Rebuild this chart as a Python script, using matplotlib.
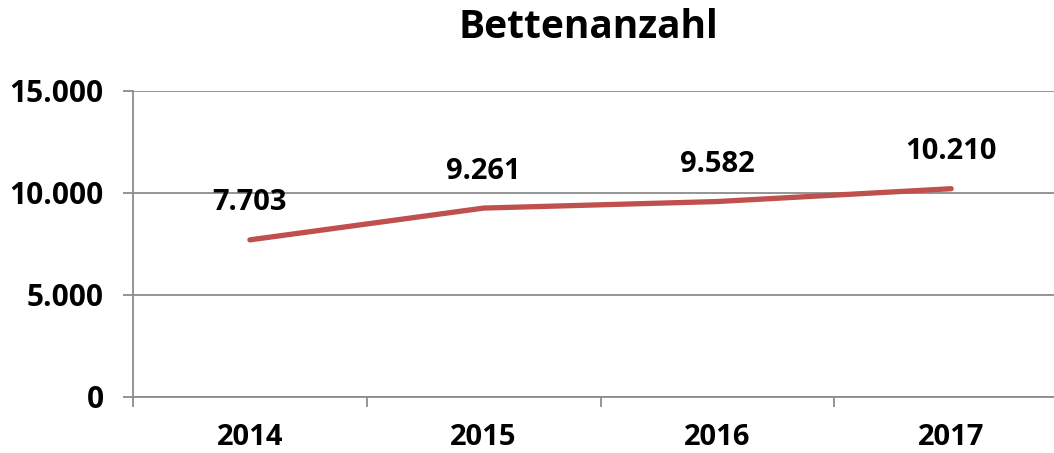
import matplotlib
matplotlib.use('Agg')
from matplotlib import pyplot as plt
from matplotlib.ticker import FixedLocator, FuncFormatter

years = ['2014', '2015', '2016', '2017']
betten = [7703, 9261, 9582, 10210]
yticks = [0, 5000, 10000, 15000]

plt.rcParams['font.family'] = ['Open Sans', 'DejaVu Sans']
plt.rcParams['font.weight'] = 'bold'

fig = plt.figure(figsize=(10.54, 4.53), dpi=100)
ax = fig.add_axes([133/1054, 1-397/453, 935/1054, 306/453])

x = list(range(len(years)))
ax.plot(x, betten, color='#C0504D', lw=3.8, solid_capstyle='round')

def de(v):
    return f'{v:,.0f}'.replace(',', '.')

for xi, v in zip(x, betten):
    ax.annotate(de(v), (xi, v), xytext=(0, 37), textcoords='offset pixels',
                ha='center', va='center', fontsize=21, fontweight='bold')

ax.set_xlim(-0.5, 3.5)
ax.set_ylim(0, 15000)
ax.set_yticks(yticks)
ax.yaxis.set_major_formatter(FuncFormatter(lambda v, p: de(v)))
ax.grid(axis='y', color='#8c8c8c', lw=1.3)
ax.set_axisbelow(True)

ax.xaxis.set_major_locator(FixedLocator([-0.5, 0.5, 1.5, 2.5, 3.5]))
ax.xaxis.set_major_formatter(FuncFormatter(lambda v, p: ''))
ax.xaxis.set_minor_locator(FixedLocator(x))
ax.set_xticks(x, years, minor=True)
ax.tick_params(axis='x', which='minor', length=0, pad=19, labelsize=21)
ax.tick_params(axis='x', which='major', length=7, width=1.3, color='#8c8c8c', direction='out')
ax.tick_params(axis='y', length=7, width=1.3, color='#8c8c8c', labelsize=21.5, pad=14)
for lab in ax.get_xticklabels(minor=True) + ax.get_yticklabels():
    lab.set_fontweight('bold')

for s in ['top', 'right']:
    ax.spines[s].set_visible(False)
ax.spines['left'].set_color('#8c8c8c')
ax.spines['left'].set_linewidth(1.3)
ax.spines['bottom'].set_color('#8c8c8c')
ax.spines['bottom'].set_linewidth(1.3)

fig.text(588/1054, 1-27/453, 'Bettenanzahl', ha='center', va='center',
         fontsize=28, fontweight='bold')

fig.savefig('out.png', dpi=100)
